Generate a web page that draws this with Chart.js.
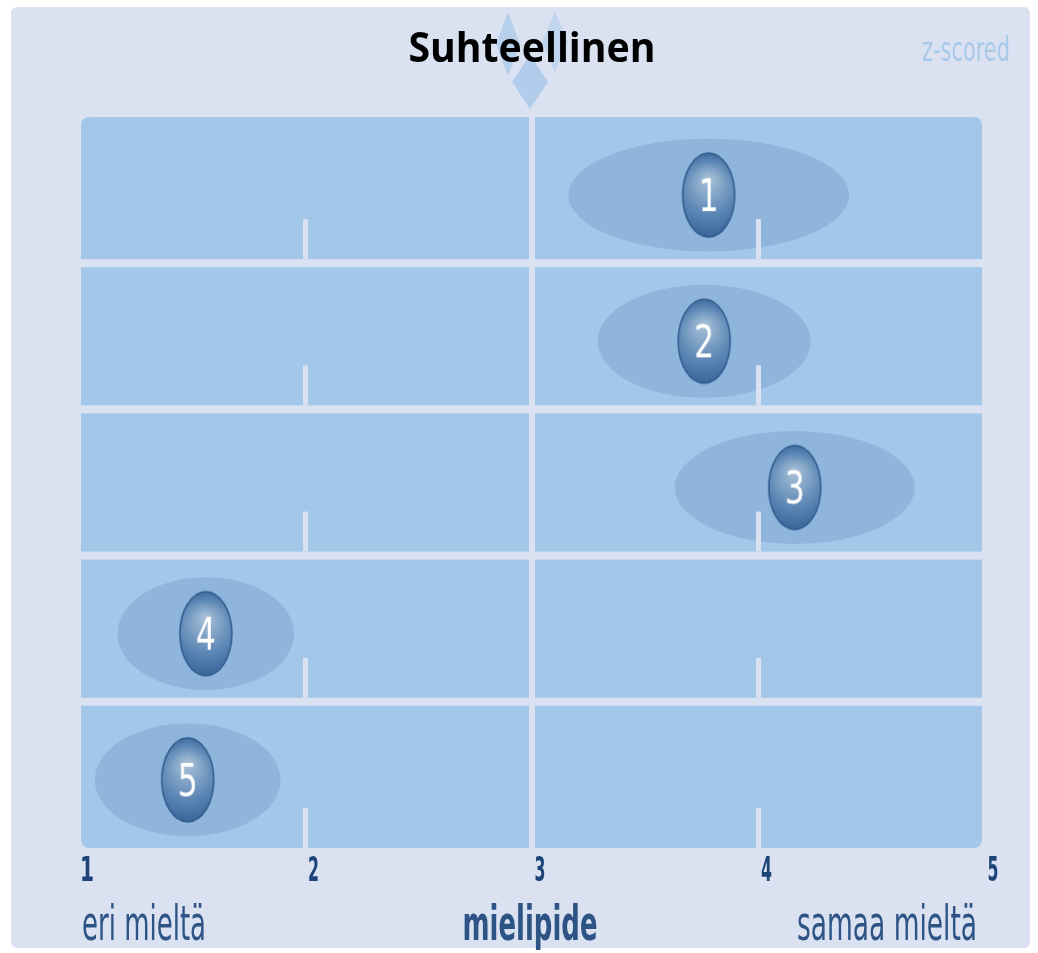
<!DOCTYPE html>
<html>
<head>
<meta charset="utf-8">
<script src="https://cdn.jsdelivr.net/npm/chart.js@4.4.0/dist/chart.umd.min.js"></script>
<style>
  body { margin: 0; background: #fff; }
</style>
</head>
<body>
<canvas id="chart" width="1038" height="953"></canvas>
<script>
// data
const rows = [1, 2, 3, 4, 5];
const means = [3.78, 3.76, 4.16, 1.56, 1.48];
const spreads = [0.62, 0.47, 0.53, 0.39, 0.41];
const xTicks = [1, 2, 3, 4, 5];
const chartTitle = 'Suhteellinen';
const leftLabel = 'eri mieltä';
const axisLabel = 'mielipide';
const rightLabel = 'samaa mieltä';
const cornerLabel = 'z-scored';

const BG = '#dae1f1';
const PANEL = '#a3c7e8';

// text squeezed to a given width (the original uses a very narrow font)
function fitText(ctx, text, x, y, font, width, align, color) {
  ctx.save();
  ctx.font = font;
  ctx.fillStyle = color;
  ctx.textBaseline = 'alphabetic';
  const w = ctx.measureText(text).width;
  ctx.translate(x, y);
  ctx.scale(width / w, 1);
  ctx.textAlign = align;
  ctx.fillText(text, 0, 0);
  ctx.restore();
}

function diamond(ctx, cx, cy, hw, hh, color) {
  ctx.beginPath();
  ctx.moveTo(cx, cy - hh);
  ctx.lineTo(cx + hw, cy);
  ctx.lineTo(cx, cy + hh);
  ctx.lineTo(cx - hw, cy);
  ctx.closePath();
  ctx.fillStyle = color;
  ctx.fill();
}

// the blue oval marker with its number
function makeMarker(label) {
  const c = document.createElement('canvas');
  c.width = 58;
  c.height = 98;
  const g = c.getContext('2d');
  const cx = 29, cy = 54, rx = 26, ry = 42;
  const grad = g.createRadialGradient(cx, cy - 16, 3, cx, cy, 46);
  grad.addColorStop(0, '#a3bdd6');
  grad.addColorStop(0.55, '#5c87b5');
  grad.addColorStop(1, '#335f94');
  g.beginPath();
  g.ellipse(cx, cy, rx, ry, 0, 0, Math.PI * 2);
  g.fillStyle = grad;
  g.fill();
  g.lineWidth = 1.5;
  g.strokeStyle = '#2f5a8c';
  g.stroke();
  g.save();
  g.font = '45px "DejaVu Sans"';
  const w = g.measureText(label).width;
  g.translate(cx, cy + 16);
  g.scale(20 / w, 1);
  g.fillStyle = '#ffffff';
  g.textAlign = 'center';
  g.fillText(label, 0, 0);
  g.restore();
  return c;
}

const backdrop = {
  id: 'backdrop',
  beforeDraw(chart) {
    const ctx = chart.ctx;
    const a = chart.chartArea;
    ctx.save();
    ctx.fillStyle = '#ffffff';
    ctx.fillRect(0, 0, chart.width, chart.height);
    ctx.fillStyle = BG;
    ctx.beginPath();
    ctx.roundRect(11, 7, 1019, 941, 6);
    ctx.fill();

    // diamonds behind the title
    ctx.globalAlpha = 0.75;
    diamond(ctx, 508, 44, 12, 32, '#a9c9ea');
    diamond(ctx, 555, 42, 13, 30, '#b7d2ee');
    diamond(ctx, 530, 82, 18, 27, '#a3c5e8');
    ctx.globalAlpha = 1;

    ctx.fillStyle = PANEL;
    ctx.beginPath();
    ctx.roundRect(a.left + 2, a.top, a.width - 5, a.height, 8);
    ctx.fill();
    ctx.restore();
  },
  beforeDatasetsDraw(chart) {
    const ctx = chart.ctx;
    const a = chart.chartArea;
    const x = chart.scales.x;
    const y = chart.scales.y;
    ctx.save();

    // spread ovals
    ctx.fillStyle = '#8fb5dc';
    means.forEach((m, i) => {
      const cx = x.getPixelForValue(m);
      const rx = x.getPixelForValue(m + spreads[i]) - cx;
      const cy = y.getPixelForValue(rows[i]) + 5;
      const ry = Math.abs(y.getPixelForValue(rows[i] + 0.386) - y.getPixelForValue(rows[i]));
      ctx.beginPath();
      ctx.ellipse(cx, cy, rx, ry, 0, 0, Math.PI * 2);
      ctx.fill();
    });

    // gaps between rows and the short marks at 2 and 4
    ctx.fillStyle = BG;
    rows.forEach(r => {
      let yb;
      if (r < rows.length) {
        const sep = y.getPixelForValue(r + 0.5);
        ctx.fillRect(a.left, sep - 4, a.width, 8);
        yb = sep - 4;
      } else {
        yb = a.bottom;
      }
      [2, 4].forEach(v => {
        const px = x.getPixelForValue(v);
        ctx.fillRect(px - 2.5, yb - 40, 5, 40);
      });
    });
    ctx.restore();
  },
  afterDraw(chart) {
    const ctx = chart.ctx;
    const x = chart.scales.x;

    fitText(ctx, chartTitle, 532, 62, 'bold 42px "Open Sans"', 247, 'center', '#000000');
    fitText(ctx, cornerLabel, 922, 61, '34px "DejaVu Sans"', 88, 'left', '#a9c9e9');

    xTicks.forEach(v => {
      const px = x.getPixelForValue(v) + 8;
      fitText(ctx, String(v), px, 881, 'bold 34px "DejaVu Sans"', v === 1 ? 14 : 11, 'center', '#1d4479');
    });

    fitText(ctx, leftLabel, 82, 940, '48px "DejaVu Sans"', 124, 'left', '#2d5485');
    fitText(ctx, axisLabel, 530, 940, 'bold 48px "DejaVu Sans"', 135, 'center', '#2d5485');
    fitText(ctx, rightLabel, 977, 940, '48px "DejaVu Sans"', 180, 'right', '#2d5485');
  }
};

new Chart(document.getElementById('chart'), {
  type: 'scatter',
  data: {
    datasets: [{
      data: means.map((m, i) => ({ x: m, y: rows[i] })),
      pointStyle: rows.map(r => makeMarker(String(r))),
      pointRadius: 30
    }]
  },
  options: {
    responsive: false,
    animation: false,
    layout: { padding: { left: 79, right: 53, top: 117, bottom: 105 } },
    plugins: {
      legend: { display: false },
      tooltip: { enabled: false },
      title: { display: false }
    },
    scales: {
      x: {
        type: 'linear',
        min: 1,
        max: 5,
        afterFit(s) { s.height = 0; },
        afterBuildTicks(s) { s.ticks = xTicks.map(v => ({ value: v })); },
        ticks: { display: false },
        border: { display: false },
        grid: {
          drawTicks: false,
          lineWidth: 6,
          color: c => (c.tick && c.tick.value === 3 ? BG : 'rgba(0,0,0,0)')
        }
      },
      y: {
        type: 'linear',
        min: 0.5,
        max: 5.5,
        reverse: true,
        display: false
      }
    }
  },
  plugins: [backdrop]
});
</script>
</body>
</html>
